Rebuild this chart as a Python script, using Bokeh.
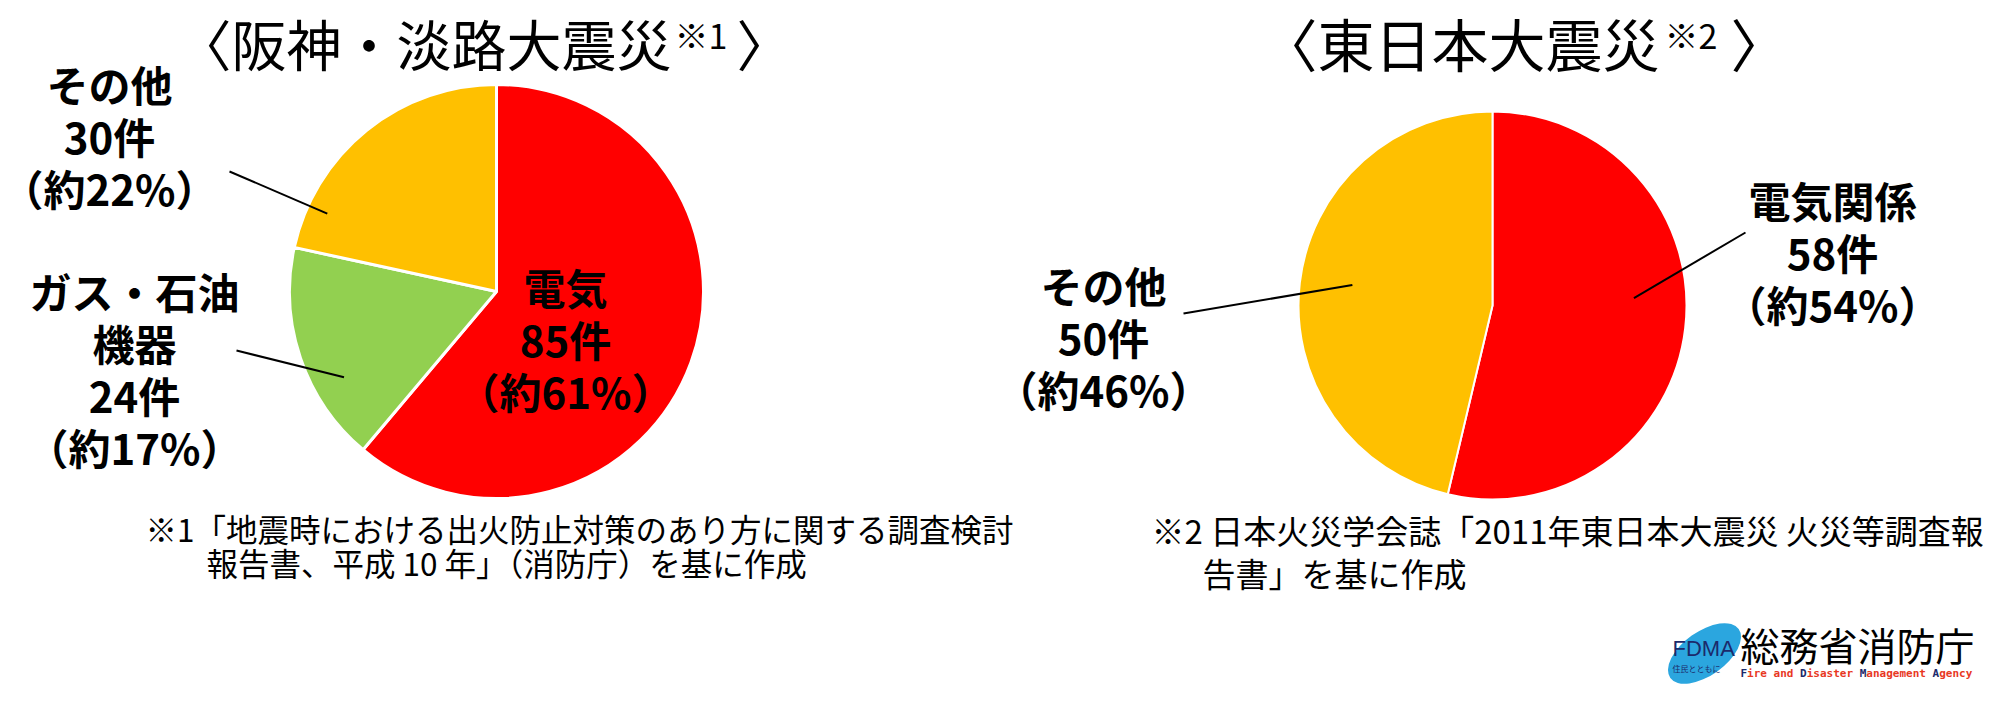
import math
from bokeh.plotting import figure
from bokeh.models import ColumnDataSource, Range1d
from bokeh.core.properties import value
from bokeh.embed import file_html
from bokeh.resources import INLINE

# ---------------- data ----------------
hanshin_title = "〈阪神・淡路大震災"
hanshin_mark = "※1"
hanshin_categories = ["電気", "ガス・石油機器", "その他"]
hanshin_label_lines = [["電気"], ["ガス・石油", "機器"], ["その他"]]
hanshin_counts = [85, 24, 30]
hanshin_percents = [61, 17, 22]
hanshin_colors = ["#FF0000", "#92D050", "#FFC000"]

higashi_title = "〈東日本大震災"
higashi_mark = "※2"
higashi_categories = ["電気関係", "その他"]
higashi_label_lines = [["電気関係"], ["その他"]]
higashi_counts = [58, 50]
higashi_percents = [54, 46]
higashi_colors = ["#FF0000", "#FFC000"]

close_bracket = "〉"
footnote1 = ["※1「地震時における出火防止対策のあり方に関する調査検討",
             "報告書、平成 10 年」（消防庁）を基に作成"]
footnote2 = ["※2 日本火災学会誌「2011年東日本大震災 火災等調査報",
             "告書」を基に作成"]
logo_name = "総務省消防庁"
logo_abbr = "FDMA"
logo_slogan = "住民とともに"
logo_english = ["F", "ire and ", "D", "isaster ", "M", "anagement ", "A", "gency"]

# ---------------- layout ----------------
JP = value("Noto Sans CJK JP")
W, H = 1984, 687
p = figure(width=W, height=H, x_range=Range1d(8, 8 + W), y_range=Range1d(-(8 + H), -8),
           output_backend="svg", toolbar_location=None, min_border=0,
           x_axis_location=None, y_axis_location=None)
p.grid.visible = False
p.outline_line_color = None
p.background_fill_color = "white"
p.border_fill_color = "white"

LABEL_SIZE = value("42px")
LINE_STEP = 52


def draw_pie(counts, colors, cx, cy, r, lw):
    total = sum(counts)
    starts, ends, spans = [], [], []
    acc = 0
    for c in counts:
        a0 = 2 * math.pi * acc / total
        acc += c
        a1 = 2 * math.pi * acc / total
        spans.append((a0, a1))
        starts.append(math.pi / 2 - a0)
        ends.append(math.pi / 2 - a1)
    src = ColumnDataSource(dict(start=starts, end=ends, color=colors, count=counts))
    p.wedge(x=cx, y=-cy, radius=r, start_angle="start", end_angle="end",
            direction="clock", fill_color="color", line_color="white",
            line_width=lw, source=src)
    return spans


def slice_point(cx, cy, r, span, t, rf):
    th = span[0] + t * (span[1] - span[0])
    return cx + rf * r * math.sin(th), -cy + rf * r * math.cos(th)


def draw_label(lines, cx, y0):
    xs = [cx] * len(lines)
    ys = [-(y0 + i * LINE_STEP) for i in range(len(lines))]
    p.text(x=xs, y=ys, text=lines, text_font=JP, text_font_size=LABEL_SIZE,
           text_font_style="bold", text_align="center", text_baseline="middle",
           text_color="black")


def draw_title(main, mark, size, x0, xm, xb, yc):
    p.text(x=[x0], y=[-yc], text=[main], text_font=JP,
           text_font_size=value(f"{size}px"),
           text_align="left", text_baseline="middle", text_color="black")
    p.text(x=[xm], y=[-(yc - 7)], text=[mark], text_font=JP, text_font_size=value("34px"),
           text_align="left", text_baseline="middle", text_color="black")
    p.text(x=[xb], y=[-yc], text=[close_bracket], text_font=JP,
           text_font_size=value(f"{size}px"), text_align="left",
           text_baseline="middle", text_color="black")


def draw_leader(inner, outer):
    p.segment(x0=[outer[0]], y0=[-outer[1]], x1=[inner[0]], y1=[inner[1]],
              line_color="black", line_width=2)


# left pie
LCX, LCY, LR = 504, 299, 207
lspans = draw_pie(hanshin_counts, hanshin_colors, LCX, LCY, LR, 3)
left_label_pos = [(573, 294), (142, 298), (117, 91)]
left_leaders = [None, (0.33, 0.845, (244, 358)), (0.16, 0.9, (237, 179))]
for i, lines in enumerate(hanshin_label_lines):
    full = lines + [f"{hanshin_counts[i]}件", f"（約{hanshin_percents[i]}%）"]
    draw_label(full, *left_label_pos[i])
    if left_leaders[i]:
        t, rf, outer = left_leaders[i]
        draw_leader(slice_point(LCX, LCY, LR, lspans[i], t, rf), outer)

# right pie
RCX, RCY, RR = 1500, 313, 194
rspans = draw_pie(higashi_counts, higashi_colors, RCX, RCY, RR, 2)
right_label_pos = [(1840, 207), (1111, 292)]
right_leaders = [(0.45, 0.73, (1753, 240)), (0.51, 0.73, (1191, 321))]
for i, lines in enumerate(higashi_label_lines):
    full = lines + [f"{higashi_counts[i]}件", f"（約{higashi_percents[i]}%）"]
    draw_label(full, *right_label_pos[i])
    t, rf, outer = right_leaders[i]
    draw_leader(slice_point(RCX, RCY, RR, rspans[i], t, rf), outer)

# titles
draw_title(hanshin_title, hanshin_mark, 55, 184, 682, 744, 49)
draw_title(higashi_title, higashi_mark, 57, 1268, 1672, 1738, 49)

# footnotes
p.text(x=[153, 214], y=[-535, -569], text=footnote1, text_font=JP,
       text_font_size=value("31.5px"),
       text_align="left", text_baseline="middle", text_color="black")
p.text(x=[1159, 1210], y=[-537, -580], text=footnote2, text_font=JP,
       text_font_size=value("33px"),
       text_align="left", text_baseline="middle", text_color="black")

# logo
p.ellipse(x=[1712], y=[-661], width=84, height=44, angle=0.62,
          fill_color="#2BA6DF", line_color=None)
p.text(x=[1680], y=[-656], text=[logo_abbr], text_font=value("Liberation Sans"),
       text_font_size=value("22px"), text_align="left", text_baseline="middle",
       text_color="#1B2A6B")
p.text(x=[1680], y=[-676], text=[logo_slogan], text_font=JP,
       text_font_size=value("8px"), text_align="left", text_baseline="middle",
       text_color="#1B2A6B")
p.text(x=[1748], y=[-651], text=[logo_name], text_font=JP,
       text_font_size=value("39px"), text_align="left", text_baseline="middle",
       text_color="black")
cw = 0.602 * 11
ex, ey, cols = [], [], []
pos = 0
for k, part in enumerate(logo_english):
    ex.append(1748 + pos * cw)
    ey.append(-681)
    cols.append("#1B2A6B" if k % 2 == 0 else "#E8381F")
    pos += len(part)
p.text(x=ex, y=ey, text=logo_english, text_color=cols, text_font=value("DejaVu Sans Mono"),
       text_font_size=value("11px"), text_font_style="bold", text_align="left",
       text_baseline="middle")

open("out.html", "w").write(file_html(p, INLINE))
